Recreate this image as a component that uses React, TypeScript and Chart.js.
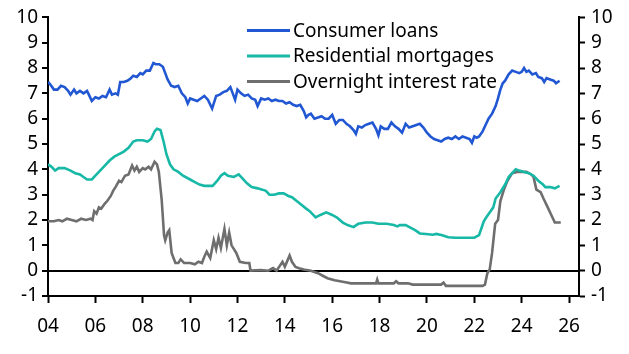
import React, { useEffect, useRef } from "react";
import { Chart, registerables } from "chart.js";

Chart.register(...registerables);

// ---------- DATA ----------
const seriesNames = ["Consumer loans", "Residential mortgages", "Overnight interest rate"];
const seriesColors = ["#2157d2", "#17b8a6", "#6e6e6e"];

const xTickValues = [2004, 2006, 2008, 2010, 2012, 2014, 2016, 2018, 2020, 2022, 2024, 2026];
const xTickLabels = ["04", "06", "08", "10", "12", "14", "16", "18", "20", "22", "24", "26"];
const xMin = 2004;
const xMax = 2026.42;
const yMin = -1;
const yMax = 10;

// [decimal year, %]
const consumerLoans: [number, number][] = [
  [2004.0, 7.45], [2004.1, 7.35], [2004.25, 7.15], [2004.4, 7.15], [2004.55, 7.3], [2004.7, 7.25], [2004.85, 7.1], [2004.95, 6.95],
  [2005.1, 7.15], [2005.2, 7.0], [2005.35, 7.1], [2005.5, 7.0], [2005.65, 7.1], [2005.75, 6.9], [2005.85, 6.7],
  [2006.0, 6.85], [2006.15, 6.8], [2006.3, 6.9], [2006.45, 6.85], [2006.6, 7.15], [2006.7, 6.95], [2006.85, 7.0], [2006.95, 6.95],
  [2007.05, 7.45], [2007.2, 7.45], [2007.35, 7.5], [2007.5, 7.6], [2007.6, 7.7], [2007.75, 7.65], [2007.9, 7.8],
  [2008.0, 7.75], [2008.15, 7.9], [2008.3, 7.9], [2008.45, 8.2], [2008.55, 8.15], [2008.7, 8.15], [2008.85, 8.05], [2008.95, 7.8],
  [2009.05, 7.55], [2009.2, 7.3], [2009.35, 7.25], [2009.5, 7.3], [2009.65, 7.0], [2009.8, 6.85], [2009.9, 6.6],
  [2010.0, 6.8], [2010.15, 6.75], [2010.3, 6.7], [2010.45, 6.8], [2010.6, 6.9], [2010.75, 6.75], [2010.93, 6.4],
  [2011.1, 6.9], [2011.25, 6.95], [2011.4, 7.05], [2011.55, 7.1], [2011.7, 7.25], [2011.8, 7.0], [2011.9, 6.75],
  [2012.0, 7.15], [2012.15, 7.0], [2012.3, 6.9], [2012.45, 6.95], [2012.6, 6.8], [2012.75, 6.75], [2012.85, 6.5],
  [2013.0, 6.8], [2013.15, 6.75], [2013.3, 6.8], [2013.45, 6.7], [2013.6, 6.75], [2013.75, 6.7], [2013.9, 6.7],
  [2014.05, 6.6], [2014.2, 6.65], [2014.35, 6.55], [2014.5, 6.5], [2014.65, 6.55], [2014.8, 6.3], [2014.9, 6.05],
  [2015.0, 6.15], [2015.1, 6.2], [2015.25, 6.0], [2015.4, 6.05], [2015.55, 6.1], [2015.7, 6.0], [2015.85, 6.0],
  [2016.0, 6.15], [2016.15, 5.8], [2016.3, 5.95], [2016.45, 5.95], [2016.6, 5.8], [2016.75, 5.7], [2016.9, 5.55],
  [2017.0, 5.4], [2017.1, 5.7], [2017.25, 5.65], [2017.4, 5.75], [2017.55, 5.8], [2017.7, 5.85], [2017.85, 5.6], [2017.95, 5.35],
  [2018.05, 5.7], [2018.2, 5.6], [2018.35, 5.6], [2018.5, 5.85], [2018.65, 5.7], [2018.8, 5.6], [2018.95, 5.45],
  [2019.1, 5.8], [2019.25, 5.65], [2019.4, 5.7], [2019.55, 5.75], [2019.7, 5.8], [2019.85, 5.65],
  [2020.0, 5.45], [2020.15, 5.3], [2020.3, 5.2], [2020.45, 5.15], [2020.6, 5.1], [2020.75, 5.2], [2020.9, 5.25],
  [2021.05, 5.2], [2021.2, 5.3], [2021.35, 5.2], [2021.5, 5.3], [2021.65, 5.25], [2021.8, 5.2], [2021.9, 5.05],
  [2022.0, 5.3], [2022.1, 5.25], [2022.2, 5.3], [2022.35, 5.5], [2022.5, 5.8], [2022.6, 6.0], [2022.75, 6.2], [2022.9, 6.5],
  [2023.0, 6.8], [2023.1, 7.15], [2023.2, 7.4], [2023.3, 7.5], [2023.45, 7.75], [2023.6, 7.9], [2023.75, 7.85], [2023.9, 7.8],
  [2024.0, 7.85], [2024.1, 8.0], [2024.2, 7.85], [2024.3, 7.9], [2024.45, 7.75], [2024.6, 7.8], [2024.7, 7.65], [2024.85, 7.6], [2024.95, 7.45],
  [2025.05, 7.6], [2025.2, 7.55], [2025.35, 7.5], [2025.45, 7.4], [2025.6, 7.5],
];

const residentialMortgages: [number, number][] = [
  [2004.0, 4.2], [2004.15, 4.1], [2004.3, 3.95], [2004.45, 4.05], [2004.7, 4.05], [2004.95, 3.95],
  [2005.15, 3.85], [2005.35, 3.8], [2005.5, 3.7], [2005.65, 3.6], [2005.85, 3.6],
  [2006.0, 3.75], [2006.2, 3.95], [2006.4, 4.15], [2006.6, 4.35], [2006.8, 4.5],
  [2007.0, 4.6], [2007.2, 4.7], [2007.4, 4.85], [2007.6, 5.1], [2007.75, 5.15],
  [2008.0, 5.15], [2008.2, 5.1], [2008.35, 5.2], [2008.5, 5.5], [2008.6, 5.6], [2008.75, 5.55], [2008.88, 5.1],
  [2009.0, 4.6], [2009.15, 4.2], [2009.3, 4.0], [2009.5, 3.9], [2009.7, 3.75],
  [2010.0, 3.6], [2010.2, 3.5], [2010.4, 3.4], [2010.6, 3.35], [2010.95, 3.35],
  [2011.15, 3.55], [2011.3, 3.75], [2011.45, 3.85], [2011.6, 3.75], [2011.85, 3.7],
  [2012.05, 3.8], [2012.2, 3.65], [2012.4, 3.45], [2012.6, 3.3], [2012.85, 3.25],
  [2013.05, 3.2], [2013.2, 3.15], [2013.35, 3.0], [2013.55, 3.0], [2013.75, 3.05], [2013.95, 3.05],
  [2014.15, 2.95], [2014.3, 2.9], [2014.5, 2.75], [2014.7, 2.6], [2014.9, 2.45],
  [2015.05, 2.35], [2015.3, 2.1], [2015.5, 2.2], [2015.75, 2.3],
  [2016.0, 2.2], [2016.2, 2.1], [2016.45, 1.9], [2016.65, 1.8], [2016.9, 1.72],
  [2017.1, 1.85], [2017.4, 1.9], [2017.7, 1.9], [2017.95, 1.85],
  [2018.3, 1.85], [2018.6, 1.8], [2018.75, 1.75], [2018.85, 1.8],
  [2019.1, 1.8], [2019.3, 1.7], [2019.5, 1.6], [2019.7, 1.47], [2019.95, 1.45],
  [2020.25, 1.42], [2020.4, 1.45], [2020.65, 1.4], [2020.9, 1.32],
  [2021.2, 1.3], [2021.6, 1.3], [2022.0, 1.3], [2022.2, 1.4], [2022.4, 1.95], [2022.5, 2.1], [2022.65, 2.3], [2022.8, 2.5], [2022.9, 2.85],
  [2023.1, 3.1], [2023.3, 3.4], [2023.45, 3.7], [2023.6, 3.85], [2023.75, 4.0], [2023.9, 3.95],
  [2024.1, 3.9], [2024.3, 3.85], [2024.5, 3.75], [2024.7, 3.55], [2024.9, 3.4],
  [2025.0, 3.3], [2025.2, 3.3], [2025.4, 3.25], [2025.6, 3.35],
];

const overnightRate: [number, number][] = [
  [2004.0, 1.95], [2004.25, 1.95], [2004.45, 2.0], [2004.6, 1.95], [2004.8, 2.05],
  [2005.0, 2.0], [2005.2, 1.95], [2005.4, 2.05], [2005.6, 2.0], [2005.8, 2.05], [2005.88, 2.0], [2005.95, 2.35],
  [2006.05, 2.25], [2006.15, 2.5], [2006.25, 2.45], [2006.4, 2.65], [2006.5, 2.75], [2006.65, 2.95], [2006.75, 3.15], [2006.85, 3.3],
  [2007.0, 3.55], [2007.1, 3.5], [2007.25, 3.75], [2007.4, 3.8], [2007.55, 4.15], [2007.65, 3.95], [2007.75, 4.1], [2007.85, 3.9],
  [2008.0, 4.05], [2008.1, 4.0], [2008.25, 4.1], [2008.35, 4.0], [2008.5, 4.3], [2008.6, 4.2], [2008.68, 3.9], [2008.8, 2.8], [2008.9, 1.4], [2008.95, 1.2],
  [2009.05, 1.5], [2009.12, 1.6], [2009.22, 0.7], [2009.3, 0.5], [2009.38, 0.3], [2009.5, 0.3], [2009.6, 0.45], [2009.75, 0.3],
  [2010.0, 0.3], [2010.2, 0.25], [2010.35, 0.35], [2010.5, 0.3], [2010.6, 0.55], [2010.7, 0.75], [2010.85, 0.5],
  [2011.0, 1.2], [2011.1, 0.85], [2011.2, 1.3], [2011.3, 0.9], [2011.45, 1.65], [2011.55, 1.0], [2011.65, 1.5], [2011.75, 1.0], [2011.85, 0.85], [2011.95, 0.7],
  [2012.1, 0.35], [2012.35, 0.3], [2012.5, 0.3], [2012.55, 0.0],
  [2013.0, 0.02], [2013.3, 0.0], [2013.5, 0.1], [2013.65, 0.0], [2013.9, 0.35],
  [2014.0, 0.15], [2014.2, 0.6], [2014.3, 0.35], [2014.45, 0.15], [2014.6, 0.1], [2014.8, 0.05],
  [2015.1, 0.0], [2015.4, -0.1], [2015.6, -0.2], [2015.8, -0.3],
  [2016.1, -0.38], [2016.5, -0.45], [2016.8, -0.5],
  [2017.5, -0.5], [2017.85, -0.5], [2017.9, -0.35], [2017.95, -0.5],
  [2018.6, -0.5], [2018.7, -0.42], [2018.8, -0.5],
  [2019.2, -0.5], [2019.4, -0.55], [2020.6, -0.55], [2020.7, -0.47], [2020.8, -0.6],
  [2022.35, -0.6], [2022.45, -0.55], [2022.55, -0.1], [2022.65, 0.05], [2022.75, 0.7], [2022.88, 1.85],
  [2023.0, 2.0], [2023.1, 2.75], [2023.25, 3.2], [2023.4, 3.55], [2023.6, 3.85], [2023.8, 3.9],
  [2024.2, 3.9], [2024.4, 3.8], [2024.5, 3.7], [2024.62, 3.2], [2024.8, 3.1], [2024.92, 2.85],
  [2025.1, 2.5], [2025.25, 2.2], [2025.4, 1.9], [2025.65, 1.9],
];

const allSeries = [consumerLoans, residentialMortgages, overnightRate];

const FONT_FAMILY = "'Noto Sans', sans-serif";
const FONT_SIZE = 19;

export default function App() {
  const canvasRef = useRef<HTMLCanvasElement | null>(null);

  useEffect(() => {
    if (!canvasRef.current) return;
    const font = { family: FONT_FAMILY, size: FONT_SIZE };

    const legendPlugin = {
      id: "insideLegend",
      afterDatasetsDraw(chart: any) {
        const { ctx, chartArea } = chart;
        ctx.save();
        seriesNames.forEach((name, i) => {
          const y = chartArea.top + 13 + i * 25.5;
          const x0 = chartArea.left + 199;
          ctx.strokeStyle = seriesColors[i];
          ctx.lineWidth = 3;
          ctx.beginPath();
          ctx.moveTo(x0, y);
          ctx.lineTo(x0 + 43, y);
          ctx.stroke();
          ctx.fillStyle = "#000";
          ctx.font = `${FONT_SIZE}px ${FONT_FAMILY}`;
          ctx.textAlign = "left";
          ctx.textBaseline = "middle";
          ctx.fillText(name, x0 + 46, y + 1);
        });
        ctx.restore();
      },
    };

    const chart = new Chart(canvasRef.current, {
      type: "line",
      data: {
        datasets: allSeries.map((s, i) => ({
          label: seriesNames[i],
          data: s.map(([x, y]) => ({ x, y })),
          borderColor: seriesColors[i],
          backgroundColor: seriesColors[i],
          borderWidth: 2.6,
          pointRadius: 0,
          tension: 0,
          fill: false,
          yAxisID: "y",
        })),
      },
      options: {
        animation: false,
        responsive: true,
        maintainAspectRatio: false,
        devicePixelRatio: 1,
        layout: { padding: { top: 16, left: 0, right: 0, bottom: 0 } },
        plugins: {
          legend: { display: false },
          tooltip: { enabled: false },
        },
        scales: {
          x: {
            type: "linear",
            min: xMin,
            max: xMax,
            afterBuildTicks: (scale: any) => {
              scale.ticks = xTickValues.map((v) => ({ value: v }));
            },
            afterFit: (scale: any) => {
              scale.height = 58;
            },
            ticks: {
              autoSkip: false,
              maxRotation: 0,
              minRotation: 0,
              font,
              color: "#000",
              padding: 12,
              callback: (v: any) => {
                const idx = xTickValues.indexOf(Number(v));
                return idx >= 0 ? xTickLabels[idx] : "";
              },
            },
            grid: {
              drawOnChartArea: false,
              drawTicks: true,
              tickLength: 7,
              tickColor: "#000",
              tickWidth: 2,
            },
            border: { display: true, color: "#000", width: 2 },
          },
          y: {
            type: "linear",
            position: "left",
            min: yMin,
            max: yMax,
            afterFit: (scale: any) => {
              scale.width = 48;
            },
            ticks: { stepSize: 1, autoSkip: false, font, color: "#000", padding: 4 },
            grid: {
              drawOnChartArea: true,
              color: (ctx: any) => (ctx.tick && ctx.tick.value === 0 ? "#000" : "rgba(0,0,0,0)"),
              lineWidth: 2,
              drawTicks: true,
              tickLength: 6,
              tickColor: "#000",
              tickWidth: 2,
            },
            border: { display: true, color: "#000", width: 2 },
          },
          y2: {
            type: "linear",
            position: "right",
            min: yMin,
            max: yMax,
            afterFit: (scale: any) => {
              scale.width = 50;
            },
            ticks: { stepSize: 1, autoSkip: false, font, color: "#000", padding: 6 },
            grid: {
              drawOnChartArea: false,
              drawTicks: true,
              tickLength: 6,
              tickColor: "#000",
              tickWidth: 2,
            },
            border: { display: true, color: "#000", width: 2 },
          },
        },
      },
      plugins: [legendPlugin],
    } as any);

    return () => chart.destroy();
  }, []);

  return (
    <div style={{ position: "absolute", left: 0, top: 0, width: 629, height: 354, background: "#fff" }}>
      <canvas ref={canvasRef} />
    </div>
  );
}
